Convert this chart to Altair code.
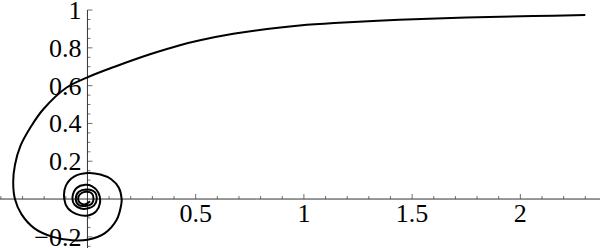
import altair as alt
import pandas as pd

# curve points (path order)
curve_x = [2.30, 2.06, 1.75, 1.44, 1.14, 0.98, 0.83, 0.674, 0.52, 0.427, 0.289, 0.135, 0.0,
           -0.096, -0.204, -0.26, -0.31, -0.335, -0.343, -0.335, -0.305, -0.245, -0.16, -0.07,
           0.0, 0.081, 0.135, 0.156, 0.158, 0.145, 0.11, 0.06, 0.0, -0.06, -0.1, -0.107,
           -0.09, -0.05, 0.0, 0.04, 0.058, 0.05, 0.02, -0.01, -0.05, -0.069, -0.06, -0.03,
           0.0, 0.03, 0.043, 0.035, 0.0, -0.04, -0.054, -0.042, -0.01, 0.02, 0.028, 0.02,
           -0.01, -0.035, -0.043, -0.035, -0.01, 0.012]
curve_y = [0.974, 0.968, 0.960, 0.948, 0.931, 0.918, 0.900, 0.874, 0.840, 0.814, 0.766, 0.704, 0.644,
           0.590, 0.475, 0.385, 0.280, 0.18, 0.09, 0.0, -0.08, -0.155, -0.20, -0.218,
           -0.215, -0.18, -0.11, -0.03, 0.0, 0.06, 0.105, 0.13, 0.138, 0.12, 0.07, 0.0,
           -0.05, -0.08, -0.088, -0.065, -0.02, 0.035, 0.068, 0.075, 0.058, 0.01, -0.03, -0.05,
           -0.05, -0.035, 0.0, 0.035, 0.05, 0.038, 0.0, -0.03, -0.037, -0.025, 0.0, 0.03,
           0.038, 0.025, 0.0, -0.02, -0.028, -0.012]

x_major = [0.5, 1.0, 1.5, 2.0]
x_major_labels = ["0.5", "1", "1.5", "2"]
x_minor = [-0.4, -0.3, -0.2, -0.1, 0.1, 0.2, 0.3, 0.4, 0.6, 0.7, 0.8, 0.9, 1.1, 1.2, 1.3, 1.4,
           1.6, 1.7, 1.8, 1.9, 2.1, 2.2, 2.3]
y_major = [-0.2, 0.2, 0.4, 0.6, 0.8, 1.0]
y_major_labels = ["\u22120.2", "0.2", "0.4", "0.6", "0.8", "1"]
y_minor = [-0.25, -0.15, -0.1, -0.05, 0.05, 0.1, 0.15, 0.25, 0.3, 0.35, 0.45, 0.5, 0.55,
           0.65, 0.7, 0.75, 0.85, 0.9, 0.95]
axis_origin = [0.0]
y_axis_top = [1.0]

curve = pd.DataFrame({"x": curve_x, "y": curve_y, "i": list(range(len(curve_x)))})
xmaj = pd.DataFrame({"v": x_major, "t": x_major_labels, "z": [0.0] * len(x_major)})
xmin = pd.DataFrame({"v": x_minor, "z": [0.0] * len(x_minor)})
ymaj = pd.DataFrame({"v": y_major, "t": y_major_labels, "z": [0.0] * len(y_major)})
ymin = pd.DataFrame({"v": y_minor, "z": [0.0] * len(y_minor)})
origin = pd.DataFrame({"z": axis_origin, "top": y_axis_top})

xs = alt.Scale(domain=[-0.404, 2.368], nice=False, zero=False)
ys = alt.Scale(domain=[-0.259, 1.053], nice=False, zero=False)
FONT = "Liberation Serif"
FS = 26
AX = "#333333"

line = alt.Chart(curve).mark_line(color="black", strokeWidth=2, interpolate="catmull-rom").encode(
    x=alt.X("x:Q", scale=xs, axis=None),
    y=alt.Y("y:Q", scale=ys, axis=None),
    order="i:Q",
)

xaxis = alt.Chart(origin).mark_rule(color=AX, strokeWidth=1).encode(
    y=alt.Y("z:Q", scale=ys, axis=None), x=alt.value(0), x2=alt.value(600)
)
yaxis = alt.Chart(origin).mark_rule(color=AX, strokeWidth=1).encode(
    x=alt.X("z:Q", scale=xs, axis=None), y=alt.Y("top:Q", scale=ys, axis=None), y2=alt.value(248)
)

xt_major = alt.Chart(xmaj).mark_tick(color=AX, orient="vertical", size=5, thickness=1, yOffset=-2.5).encode(
    x=alt.X("v:Q", scale=xs, axis=None), y=alt.Y("z:Q", scale=ys, axis=None)
)
xt_minor = alt.Chart(xmin).mark_tick(color=AX, orient="vertical", size=3, thickness=1, yOffset=-1.5).encode(
    x=alt.X("v:Q", scale=xs, axis=None), y=alt.Y("z:Q", scale=ys, axis=None)
)
yt_major = alt.Chart(ymaj).mark_tick(color=AX, orient="horizontal", size=5, thickness=1, xOffset=2.5).encode(
    y=alt.Y("v:Q", scale=ys, axis=None), x=alt.X("z:Q", scale=xs, axis=None)
)
yt_minor = alt.Chart(ymin).mark_tick(color=AX, orient="horizontal", size=3, thickness=1, xOffset=1.5).encode(
    y=alt.Y("v:Q", scale=ys, axis=None), x=alt.X("z:Q", scale=xs, axis=None)
)

xlab = alt.Chart(xmaj).mark_text(align="center", baseline="alphabetic", dy=23).encode(
    x=alt.X("v:Q", scale=xs, axis=None), y=alt.Y("z:Q", scale=ys, axis=None), text="t:N",
    size=alt.value(FS), color=alt.value("black")
)
ylab = alt.Chart(ymaj).mark_text(align="right", baseline="middle", dx=-6, dy=1).encode(
    y=alt.Y("v:Q", scale=ys, axis=None), x=alt.X("z:Q", scale=xs, axis=None), text="t:N",
    size=alt.value(FS), color=alt.value("black")
)

chart = alt.layer(xaxis, yaxis, xt_major, xt_minor, yt_major, yt_minor, xlab, ylab, line).properties(
    width=600, height=248, padding=0, background="white",
    autosize=alt.AutoSizeParams(type="none")
).configure_view(stroke=None).configure_text(font=FONT, fontSize=FS)

chart.save("out.html", embed_options={"renderer": "svg", "actions": False})
